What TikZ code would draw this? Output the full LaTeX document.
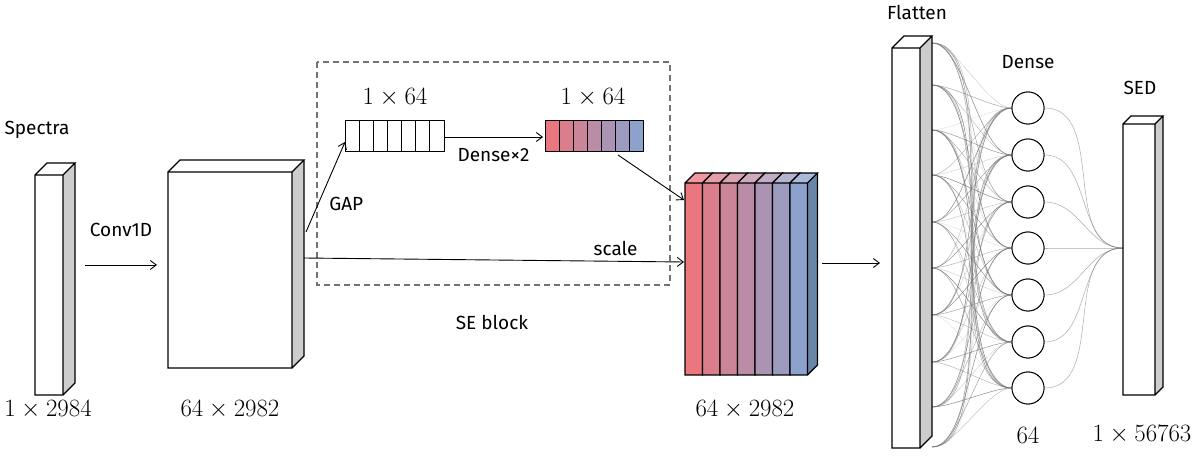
\documentclass[tikz,border=0pt]{standalone}
\usepackage{amsmath}
\usepackage{fontspec}
\setsansfont{Fira Sans}
\usetikzlibrary{calc, positioning, arrows.meta}

% box with depth: front rectangle, top face and side face
\newcommand{\slab}[7]{%
  \fill[#6] (#1,#2) rectangle (#3,#4);
  \fill[#7] (#3,#2) -- (#3+#5,#2-#5) -- (#3+#5,#4-#5) -- (#3,#4) -- cycle;
  \fill[#6!75!white] (#1,#2) -- (#1+#5,#2-#5) -- (#3+#5,#2-#5) -- (#3,#2) -- cycle;
  \draw[line width=1.1pt] (#1,#2) rectangle (#3,#4)
    (#1,#2) -- (#1+#5,#2-#5) -- (#3+#5,#2-#5) -- (#3,#2)
    (#3+#5,#2-#5) -- (#3+#5,#4-#5) -- (#3,#4);
}

\definecolor{sered}{RGB}{234,118,128}
\definecolor{seblue}{RGB}{140,162,204}
\definecolor{sesteel}{RGB}{104,134,166}
\definecolor{sidegray}{RGB}{205,205,205}

\tikzset{
  lbl/.style={font=\sffamily\fontsize{19}{19}\selectfont},
  dim/.style={font=\fontsize{23}{23}\selectfont},
  arr/.style={-{Straight Barb[length=6pt,width=9pt]}, line width=0.9pt},
  neuron/.style={circle, draw, line width=0.9pt, minimum size=32pt, inner sep=0pt, fill=white},
  wire/.style={black!55, line width=0.5pt},
}

\begin{document}
\begin{tikzpicture}[x=1pt,y=-1pt]
  \useasboundingbox (0,0) rectangle (1200,462);

  % input spectra
  \slab{35}{175}{63}{395}{12}{white}{sidegray}
  \node[lbl] (spectra) at (37,130) {Spectra};
  \node[dim] (indim) at (48,410) {$1\times2984$};

  \coordinate (c1a) at (85,265);
  \coordinate (c1b) at (157,265);
  \draw[arr] (c1a) -- (c1b) node[lbl, midway, above=24pt] {Conv1D};

  % conv output
  \slab{168}{172}{292}{368}{12}{white}{sidegray}
  \node[dim] (convdim) at (230,410) {$64\times2982$};

  % SE block
  \draw[dash pattern=on 6pt off 4pt, black!55, line width=1.4pt] (317,62) rectangle (670,285);
  \node[lbl] (seblk) at (492,322) {SE block};

  \foreach \i in {0,...,6}
    \draw[line width=1pt] (345+\i*14.15,121) rectangle ++(14.15,31);
  \node[dim] (gapdim) at (395,98) {$1\times64$};

  \foreach \i in {0,...,6}{
    \pgfmathsetmacro{\t}{\i*100/6}
    \draw[line width=1pt, fill=seblue!\t!sered] (545+\i*14,121) rectangle ++(14,31);
  }
  \node[dim] (fcdim) at (593,98) {$1\times64$};

  \coordinate (gapa) at (306,232);
  \coordinate (gapb) at (345,142);
  \draw[arr] (gapa) -- (gapb) node[lbl, pos=0.45, below right=2pt and 2pt] {GAP};

  \coordinate (fca) at (444,137);
  \coordinate (fcb) at (543,137);
  \draw[arr] (fca) -- (fcb) node[lbl, midway, below=8pt] {Dense\texttimes2};

  \coordinate (exa) at (618,155);
  \coordinate (exb) at (684,200);
  \draw[arr] (exa) -- (exb);

  \coordinate (sca) at (304,258);
  \coordinate (scb) at (684,262);
  \draw[arr] (sca) -- (scb) node[lbl, pos=0.82, above=2pt] {scale};

  % recalibrated feature maps
  \foreach \i in {0,...,6}{
    \pgfmathsetmacro{\t}{\i*100/6}
    \colorlet{slabc}{seblue!\t!sered}
    \slab{685+\i*17.5}{183}{702.5+\i*17.5}{375}{10}{slabc}{sesteel}
  }
  \node[dim] (sedim) at (745,410) {$64\times2982$};

  \coordinate (fla) at (822,263);
  \coordinate (flb) at (880,263);
  \draw[arr] (fla) -- (flb);

  % flatten
  \node[lbl] (flat) at (917,12) {Flatten};
  \foreach \k [count=\j] in {43,85,130,175,222,268,315,362,407,447}
    \coordinate (f\j) at (932,\k);
  \foreach \k [count=\j] in {108,155,202,248,295,342,388}
    \node[neuron] (n\j) at (1028,\k) {};
  \coordinate (sedin) at (1123,248);
  \foreach \a in {1,...,10}
    \foreach \b in {1,...,7}{
      \pgfmathsetmacro{\op}{0.2+0.65*mod(\a*3+\b*5,7)/6}
      \draw[wire, opacity=\op] (f\a) to[out=0, in=180, looseness=0.6] (n\b.west);
    }
  \foreach \b in {1,...,7}
    \draw[wire, opacity=0.6] (n\b.east) to[out=0, in=180] (sedin);
  \foreach \k [count=\j] in {108,155,202,248,295,342,388}
    \node[neuron] at (1028,\k) {};
  \slab{892}{48}{920}{448}{12}{white}{sidegray}
  \node[lbl] (dense) at (1028,62) {Dense};
  \node[dim] (ndim) at (1028,435) {$64$};

  % output
  \slab{1123}{124}{1155}{395}{8}{white}{sidegray}
  \node[lbl] (sed) at (1140,88) {SED};
  \node[dim] (outdim) at (1142,435) {$1\times56763$};
\end{tikzpicture}
\end{document}
